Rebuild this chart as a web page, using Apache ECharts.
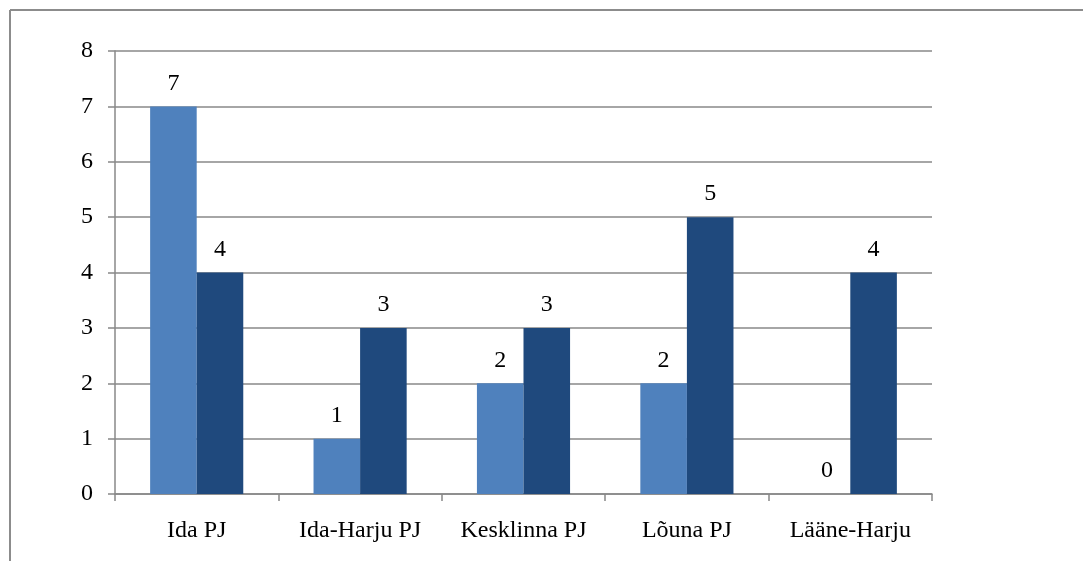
<!DOCTYPE html>
<html>
<head>
<meta charset="utf-8">
<script src="https://cdn.jsdelivr.net/npm/echarts@6/dist/echarts.min.js"></script>
<style>
html,body{margin:0;padding:0;background:#fff;}
#chart{width:1083px;height:561px;}
</style>
</head>
<body>
<div id="chart"></div>
<script>
const categories = ['Ida PJ', 'Ida-Harju PJ', 'Kesklinna PJ', 'Lõuna PJ', 'Lääne-Harju'];
const seriesA = [7, 1, 2, 2, 0];
const seriesB = [4, 3, 3, 5, 4];
const yTicks = [0, 1, 2, 3, 4, 5, 6, 7, 8];

const font = 'Liberation Serif, Times New Roman, serif';
const fs = 24;
const chart = echarts.init(document.getElementById('chart'));
const labelCfg = {show: true, position: 'top', distance: 11, color: '#000', fontFamily: font, fontSize: fs};
chart.setOption({
  animation: false,
  backgroundColor: '#fff',
  graphic: [
    {type: 'line', shape: {x1: 10, y1: 10, x2: 1083, y2: 10}, style: {stroke: '#8c8c8c', lineWidth: 2}},
    {type: 'line', shape: {x1: 10, y1: 10, x2: 10, y2: 561}, style: {stroke: '#8c8c8c', lineWidth: 2}}
  ],
  grid: {left: 115, right: 151, top: 51, bottom: 67},
  xAxis: {
    type: 'category',
    data: categories,
    axisLine: {lineStyle: {color: '#888', width: 1.5}},
    axisTick: {show: true, length: 7, inside: false, lineStyle: {color: '#888', width: 1.5}},
    axisLabel: {color: '#000', fontFamily: font, fontSize: fs, margin: 25, interval: 0, hideOverlap: false}
  },
  yAxis: {
    type: 'value',
    min: yTicks[0], max: yTicks[yTicks.length - 1], interval: 1,
    axisLine: {show: true, lineStyle: {color: '#888', width: 1.5}},
    axisTick: {show: true, length: 7, lineStyle: {color: '#888', width: 1.5}},
    splitLine: {lineStyle: {color: '#888', width: 1.5}},
    axisLabel: {color: '#000', fontFamily: font, fontSize: fs, margin: 22}
  },
  series: [
    {type: 'bar', data: seriesA, barGap: '0%', barCategoryGap: '43%', itemStyle: {color: '#4F81BD'}, label: labelCfg},
    {type: 'bar', data: seriesB, barGap: '0%', barCategoryGap: '43%', itemStyle: {color: '#1F497D'}, label: labelCfg}
  ]
});
</script>
</body>
</html>
